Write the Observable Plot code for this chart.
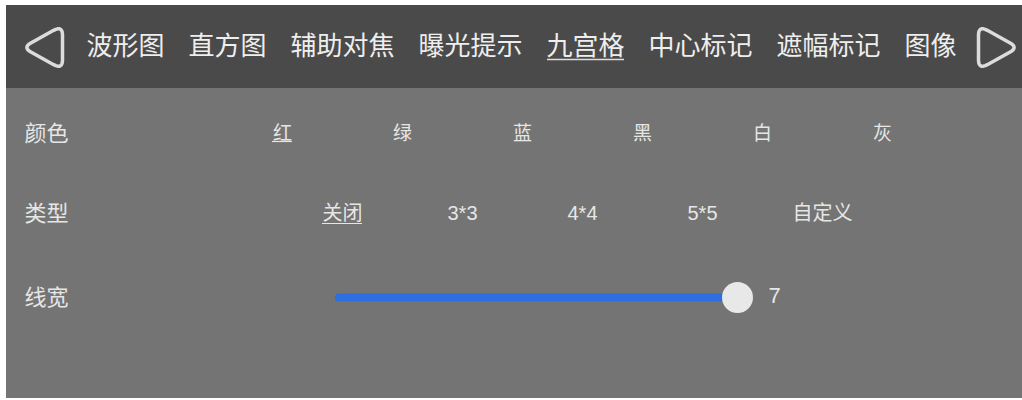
<!DOCTYPE html>
<html>
<head>
<meta charset="utf-8">
<script src="https://cdn.jsdelivr.net/npm/d3@7"></script>
<script src="https://cdn.jsdelivr.net/npm/@observablehq/plot@0.6"></script>
<style>
  html, body { margin: 0; padding: 0; background: #ffffff; }
  svg { display: block; }
</style>
</head>
<body>
<div id="chart"></div>
<script>
// ---- data ----
const tabs = ["波形图", "直方图", "辅助对焦", "曝光提示", "九宫格", "中心标记", "遮幅标记", "图像"];
const activeTab = "九宫格";
const rowLabels = ["颜色", "类型", "线宽"];
const colorOptions = ["红", "绿", "蓝", "黑", "白", "灰"];
const selectedColor = "红";
const gridTypes = ["关闭", "3*3", "4*4", "5*5", "自定义"];
const selectedType = "关闭";
const lineWidthValue = 7;
const navArrows = ["left", "right"];

// ---- layout (computed) ----
const W = 1022, H = 400;
const font = "'Noto Sans CJK SC', sans-serif";
const latinFont = "'Liberation Sans', 'Noto Sans CJK SC', sans-serif";
const headerTop = 5, headerBottom = 88, bodyBottom = 398, leftEdge = 6;
const tabFont = 26, tabGap = 24, tabY = 46;
let cursor = 86;
const tabData = tabs.map(t => {
  const d = {label: t, x: cursor, w: t.length * tabFont};
  cursor += d.w + tabGap;
  return d;
});
const rowY = [133, 213, 297];
const rowData = rowLabels.map((l, i) => ({label: l, y: rowY[i]}));
const colStep = 120, colCenter = 582;
const colorData = colorOptions.map((c, i) => ({label: c, x: colCenter + (i - (colorOptions.length - 1) / 2) * colStep, y: rowY[0]}));
const typeData = gridTypes.map((c, i) => ({label: c, x: colCenter + (i - (gridTypes.length - 1) / 2) * colStep, y: rowY[1]}));
const trackStart = 339, knobTarget = 737;
const pxPerUnit = (knobTarget - trackStart) / lineWidthValue;
const knobX = trackStart + lineWidthValue * pxPerUnit;

// rounded triangles for the navigation arrows
function roundedTriangle(k, verts, f) {
  const pts = [];
  const n = verts.length;
  for (let i = 0; i < n; i++) {
    const V = verts[i], P = verts[(i + n - 1) % n], N = verts[(i + 1) % n];
    const A = [V[0] + (P[0] - V[0]) * f, V[1] + (P[1] - V[1]) * f];
    const B = [V[0] + (N[0] - V[0]) * f, V[1] + (N[1] - V[1]) * f];
    for (let s = 0; s <= 8; s++) {
      const t = s / 8;
      const x = (1 - t) * (1 - t) * A[0] + 2 * (1 - t) * t * V[0] + t * t * B[0];
      const y = (1 - t) * (1 - t) * A[1] + 2 * (1 - t) * t * V[1] + t * t * B[1];
      pts.push({k, x, y});
    }
  }
  return pts;
}
const arrowPts = [];
navArrows.forEach(dir => {
  const cy = 47, h = 40, half = 22;
  if (dir === "left") {
    const ax = 22, bx = ax + h;
    arrowPts.push(...roundedTriangle(dir, [[ax, cy], [bx, cy - half], [bx, cy + half]], 0.22));
  } else {
    const ax = 1018, bx = ax - h;
    arrowPts.push(...roundedTriangle(dir, [[ax, cy], [bx, cy - half], [bx, cy + half]], 0.22));
  }
});

const textColor = "#e6e6e6";

const chart = Plot.plot({
  width: W, height: H, margin: 0,
  x: {domain: [0, W], range: [0, W], axis: null},
  y: {domain: [0, H], range: [0, H], axis: null},
  style: {background: "#ffffff", fontFamily: font},
  marks: [
    // body panel
    Plot.rect([{}], {x1: leftEdge, x2: W, y1: headerBottom, y2: bodyBottom, fill: "#747474"}),
    // header bar
    Plot.rect([{}], {x1: leftEdge, x2: W, y1: headerTop, y2: headerBottom, fill: "#4a4a4a"}),
    // nav arrows
    Plot.line(arrowPts, {x: "x", y: "y", z: "k", curve: "linear-closed", stroke: "#dcdcdc", strokeWidth: 3.5, strokeLinejoin: "round"}),
    // tabs
    Plot.text(tabData, {x: "x", y: tabY, text: "label", textAnchor: "start", fontSize: tabFont, fill: "#eeeeee", fontFamily: font}),
    Plot.ruleY(tabData.filter(d => d.label === activeTab), {x1: d => d.x + 1, x2: d => d.x + d.w, y: 59, stroke: "#dddddd", strokeWidth: 1.5}),
    // row labels
    Plot.text(rowData, {x: 24, y: "y", text: "label", textAnchor: "start", fontSize: 22, fill: textColor, fontFamily: font}),
    // colour options
    Plot.text(colorData, {x: "x", y: "y", text: "label", fontSize: 19, fill: textColor, fontFamily: font}),
    Plot.ruleY(colorData.filter(d => d.label === selectedColor), {x1: d => d.x - 10, x2: d => d.x + 10, y: d => d.y + 8, stroke: textColor, strokeWidth: 1.2}),
    // grid type options
    Plot.text(typeData, {x: "x", y: "y", text: "label", fontSize: 20, fill: textColor, fontFamily: latinFont}),
    Plot.ruleY(typeData.filter(d => d.label === selectedType), {x1: d => d.x - 20, x2: d => d.x + 20, y: d => d.y + 10, stroke: textColor, strokeWidth: 1.2}),
    // slider
    Plot.ruleY([rowY[2]], {x1: trackStart, x2: knobX, stroke: "#2d6ee0", strokeWidth: 8, strokeLinecap: "round"}),
    Plot.dot([{}], {x: knobX, y: rowY[2], r: 15.5, fill: "#e8e8e8", stroke: "none"}),
    Plot.text([String(lineWidthValue)], {x: knobX + 31, y: rowY[2] - 2, text: d => d, textAnchor: "start", fontSize: 22, fill: textColor, fontFamily: latinFont})
  ]
});
document.getElementById("chart").appendChild(chart);
</script>
</body>
</html>
